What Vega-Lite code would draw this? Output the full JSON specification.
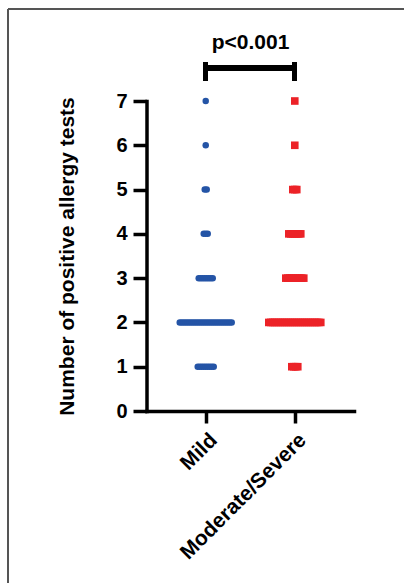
{
  "$schema": "https://vega.github.io/schema/vega-lite/v6.json",
  "autosize": {"type": "none"},
  "padding": {"left": 8, "top": 9, "right": 0, "bottom": 0},
  "width": 396,
  "height": 574,
  "background": "white",
  "config": {
    "font": "Liberation Sans",
    "view": {"stroke": "#555555", "strokeWidth": 2, "strokeDash": [396, 970, 574, 0]}
  },
  "title": {
    "text": "p<0.001",
    "anchor": "middle",
    "frame": "group",
    "dx": 44.5,
    "offset": -61,
    "baseline": "alphabetic",
    "font": "Liberation Sans",
    "fontSize": 21,
    "fontWeight": "bold",
    "color": "black"
  },
  "data": {
    "values": [
      {"group": "Mild", "tests": 1}, {"group": "Mild", "tests": 1}, {"group": "Mild", "tests": 1}, {"group": "Mild", "tests": 1}, {"group": "Mild", "tests": 1}, {"group": "Mild", "tests": 1}, {"group": "Mild", "tests": 1}, {"group": "Mild", "tests": 1}, {"group": "Mild", "tests": 1},
      {"group": "Mild", "tests": 2}, {"group": "Mild", "tests": 2}, {"group": "Mild", "tests": 2}, {"group": "Mild", "tests": 2}, {"group": "Mild", "tests": 2}, {"group": "Mild", "tests": 2}, {"group": "Mild", "tests": 2}, {"group": "Mild", "tests": 2}, {"group": "Mild", "tests": 2}, {"group": "Mild", "tests": 2},
      {"group": "Mild", "tests": 2}, {"group": "Mild", "tests": 2}, {"group": "Mild", "tests": 2}, {"group": "Mild", "tests": 2}, {"group": "Mild", "tests": 2}, {"group": "Mild", "tests": 2}, {"group": "Mild", "tests": 2}, {"group": "Mild", "tests": 2}, {"group": "Mild", "tests": 2}, {"group": "Mild", "tests": 2},
      {"group": "Mild", "tests": 2}, {"group": "Mild", "tests": 2}, {"group": "Mild", "tests": 2}, {"group": "Mild", "tests": 2}, {"group": "Mild", "tests": 2}, {"group": "Mild", "tests": 2}, {"group": "Mild", "tests": 2},
      {"group": "Mild", "tests": 3}, {"group": "Mild", "tests": 3}, {"group": "Mild", "tests": 3}, {"group": "Mild", "tests": 3}, {"group": "Mild", "tests": 3}, {"group": "Mild", "tests": 3}, {"group": "Mild", "tests": 3}, {"group": "Mild", "tests": 3},
      {"group": "Mild", "tests": 4}, {"group": "Mild", "tests": 4}, {"group": "Mild", "tests": 4},
      {"group": "Mild", "tests": 5}, {"group": "Mild", "tests": 5},
      {"group": "Mild", "tests": 6},
      {"group": "Mild", "tests": 7},
      {"group": "Moderate/Severe", "tests": 1}, {"group": "Moderate/Severe", "tests": 1}, {"group": "Moderate/Severe", "tests": 1}, {"group": "Moderate/Severe", "tests": 1},
      {"group": "Moderate/Severe", "tests": 2}, {"group": "Moderate/Severe", "tests": 2}, {"group": "Moderate/Severe", "tests": 2}, {"group": "Moderate/Severe", "tests": 2}, {"group": "Moderate/Severe", "tests": 2}, {"group": "Moderate/Severe", "tests": 2}, {"group": "Moderate/Severe", "tests": 2}, {"group": "Moderate/Severe", "tests": 2}, {"group": "Moderate/Severe", "tests": 2}, {"group": "Moderate/Severe", "tests": 2},
      {"group": "Moderate/Severe", "tests": 2}, {"group": "Moderate/Severe", "tests": 2}, {"group": "Moderate/Severe", "tests": 2}, {"group": "Moderate/Severe", "tests": 2}, {"group": "Moderate/Severe", "tests": 2}, {"group": "Moderate/Severe", "tests": 2}, {"group": "Moderate/Severe", "tests": 2}, {"group": "Moderate/Severe", "tests": 2}, {"group": "Moderate/Severe", "tests": 2}, {"group": "Moderate/Severe", "tests": 2},
      {"group": "Moderate/Severe", "tests": 2}, {"group": "Moderate/Severe", "tests": 2}, {"group": "Moderate/Severe", "tests": 2}, {"group": "Moderate/Severe", "tests": 2}, {"group": "Moderate/Severe", "tests": 2}, {"group": "Moderate/Severe", "tests": 2}, {"group": "Moderate/Severe", "tests": 2},
      {"group": "Moderate/Severe", "tests": 3}, {"group": "Moderate/Severe", "tests": 3}, {"group": "Moderate/Severe", "tests": 3}, {"group": "Moderate/Severe", "tests": 3}, {"group": "Moderate/Severe", "tests": 3}, {"group": "Moderate/Severe", "tests": 3}, {"group": "Moderate/Severe", "tests": 3}, {"group": "Moderate/Severe", "tests": 3}, {"group": "Moderate/Severe", "tests": 3}, {"group": "Moderate/Severe", "tests": 3},
      {"group": "Moderate/Severe", "tests": 4}, {"group": "Moderate/Severe", "tests": 4}, {"group": "Moderate/Severe", "tests": 4}, {"group": "Moderate/Severe", "tests": 4}, {"group": "Moderate/Severe", "tests": 4}, {"group": "Moderate/Severe", "tests": 4}, {"group": "Moderate/Severe", "tests": 4},
      {"group": "Moderate/Severe", "tests": 5}, {"group": "Moderate/Severe", "tests": 5}, {"group": "Moderate/Severe", "tests": 5},
      {"group": "Moderate/Severe", "tests": 6},
      {"group": "Moderate/Severe", "tests": 7}
    ]
  },
  "encoding": {
    "x": {
      "field": "group",
      "type": "nominal",
      "sort": ["Mild", "Moderate/Severe"],
      "scale": {"type": "point", "range": [138.5, 346], "padding": 0.665},
      "axis": {
        "title": null,
        "offset": -172,
        "labelAngle": -45,
        "labelFont": "Liberation Sans",
        "labelFontSize": 21,
        "labelFontWeight": "bold",
        "labelColor": "black",
        "labelPadding": 6,
        "domainColor": "black",
        "domainWidth": 3.5,
        "domainCap": "square",
        "tickColor": "black",
        "tickWidth": 3.5,
        "tickSize": 12
      }
    },
    "y": {
      "field": "tests",
      "type": "quantitative",
      "scale": {"domain": [0, 7], "range": [402, 92], "nice": false, "zero": true},
      "axis": {
        "title": "Number of positive allergy tests",
        "titleFont": "Liberation Sans",
        "titleFontSize": 21,
        "titleFontWeight": "bold",
        "titleColor": "black",
        "titlePadding": 38,
        "offset": -138.5,
        "values": [0, 1, 2, 3, 4, 5, 6, 7],
        "grid": false,
        "labelFont": "Liberation Sans",
        "labelFontSize": 20,
        "labelFontWeight": "bold",
        "labelColor": "black",
        "labelPadding": 6,
        "domainColor": "black",
        "domainWidth": 3.5,
        "domainCap": "square",
        "tickColor": "black",
        "tickWidth": 3.5,
        "tickSize": 13.5
      }
    }
  },
  "layer": [
    {
      "transform": [
        {"window": [{"op": "count", "as": "one"}], "frame": [0, 0]},
        {"stack": "one", "groupby": ["group", "tests"], "offset": "center", "as": ["s0", "s1"]}
      ],
      "mark": {"type": "point", "filled": true, "opacity": 1, "strokeWidth": 0},
      "encoding": {
        "xOffset": {"field": "s0", "type": "quantitative", "scale": {"domain": [-20, 20], "range": [-66, 14]}},
        "color": {"field": "group", "type": "nominal", "scale": {"domain": ["Mild", "Moderate/Severe"], "range": ["#2454a6", "#ec2227"]}, "legend": null},
        "shape": {"field": "group", "type": "nominal", "scale": {"domain": ["Mild", "Moderate/Severe"], "range": ["circle", "square"]}, "legend": null},
        "size": {"field": "group", "type": "nominal", "scale": {"domain": ["Mild", "Moderate/Severe"], "range": [42, 58]}, "legend": null}
      }
    },
    {
      "mark": {"type": "rule", "color": "black", "strokeWidth": 5},
      "encoding": {"x": {"datum": "Mild"}, "x2": {"datum": "Moderate/Severe"}, "y": {"datum": 7.745}}
    },
    {
      "mark": {"type": "rule", "color": "black", "strokeWidth": 4.5},
      "encoding": {"x": {"datum": "Mild"}, "y": {"datum": 7.47}, "y2": {"datum": 7.86}}
    },
    {
      "mark": {"type": "rule", "color": "black", "strokeWidth": 4.5},
      "encoding": {"x": {"datum": "Moderate/Severe"}, "y": {"datum": 7.47}, "y2": {"datum": 7.86}}
    }
  ]
}
